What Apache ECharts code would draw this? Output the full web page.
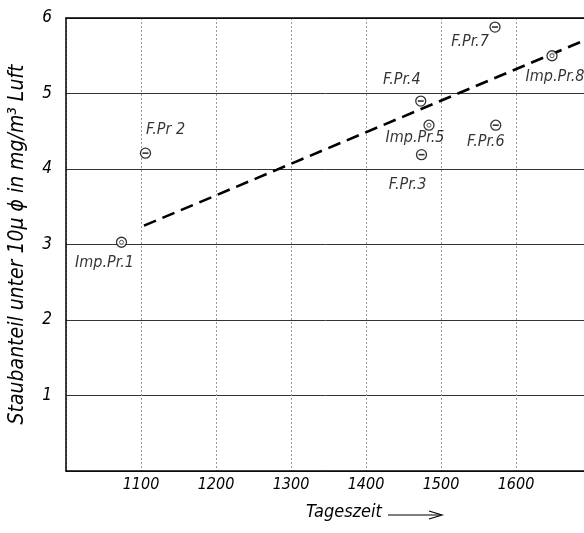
<!DOCTYPE html>
<html>
<head>
<meta charset="utf-8">
<script src="https://cdn.jsdelivr.net/npm/echarts@6/dist/echarts.min.js"></script>
<style>html,body{margin:0;padding:0;background:#fff}#c{width:584px;height:533px}</style>
</head>
<body>
<div id="c"></div>
<script>
// ---- data ----
const pointNames = ['Imp.Pr.1', 'F.Pr 2', 'F.Pr.3', 'F.Pr.4', 'Imp.Pr.5', 'F.Pr.6', 'F.Pr.7', 'Imp.Pr.8'];
const times = [1074, 1106, 1474, 1473, 1484, 1573, 1572, 1648];
const dust = [3.03, 4.21, 4.19, 4.90, 4.58, 4.58, 5.88, 5.50];
const trendTimes = [1104, 1700];
const trendDust = [3.25, 5.74];
const xTickLabels = ['1100', '1200', '1300', '1400', '1500', '1600'];
const yTickLabels = ['1', '2', '3', '4', '5', '6'];
const yTitle = 'Staubanteil unter 10\u03BC \u03D5 in mg/m\u00B3 Luft';
const xTitle = 'Tageszeit';

// ---- styles / label placement ----
const FONT = "'Liberation Sans Narrow','DejaVu Sans Condensed','Roboto Condensed','Liberation Sans',sans-serif";
const labelOffsets = [[-17, 21], [20, -23], [-14, 30], [-19, -21], [-14, 13], [-10, 17], [-25, 15], [3, 21]];

const isImp = pointNames.map(n => n.startsWith('Imp'));
const ringData = pointNames.map((n, i) => ({
  value: [times[i], dust[i]],
  label: { show: true, formatter: n, position: 'inside', offset: labelOffsets[i] }
}));
const barData = pointNames.map((n, i) => isImp[i] ? null : [times[i], dust[i]]).filter(d => d);
const dotData = pointNames.map((n, i) => isImp[i] ? [times[i], dust[i]] : null).filter(d => d);
const trend = trendTimes.map((t, i) => [t, trendDust[i]]);

const chart = echarts.init(document.getElementById('c'), null, { renderer: 'canvas' });
chart.setOption({
  animation: false,
  backgroundColor: '#fff',
  grid: { left: 66, top: 18, height: 453, width: 525, containLabel: false, outerBoundsMode: 'none' },
  xAxis: [{
    type: 'value', min: 1000, max: 1700, interval: 100,
    axisLine: { show: true, lineStyle: { color: '#000', width: 1.5 } },
    axisTick: { show: false },
    splitLine: { show: true, lineStyle: { color: '#999', width: 1, type: [2, 2] } },
    axisLabel: {
      margin: 6, fontFamily: FONT, fontStyle: 'italic', fontSize: 16, color: '#000',
      formatter: v => xTickLabels.includes(String(v)) ? String(v) : ''
    }
  }, {
    type: 'value', min: 1000, max: 1700, position: 'top',
    axisLine: { show: true, onZero: false, lineStyle: { color: '#000', width: 1.5 } },
    axisTick: { show: false }, axisLabel: { show: false }, splitLine: { show: false }
  }],
  yAxis: {
    type: 'value', min: 0, max: 6, interval: 1,
    axisLine: { show: true, lineStyle: { color: '#000', width: 1.5 } },
    axisTick: { show: false },
    splitLine: { show: true, lineStyle: { color: '#333', width: 1 } },
    axisLabel: {
      margin: 14, fontFamily: FONT, fontStyle: 'italic', fontSize: 17, color: '#000',
      verticalAlign: 'middle', padding: [0, 0, 7, 0],
      formatter: v => yTickLabels.includes(String(v)) ? String(v) : ''
    },
    name: yTitle, nameLocation: 'middle', nameGap: 38, nameRotate: 90,
    nameTextStyle: { fontFamily: FONT, fontStyle: 'italic', fontSize: 21, color: '#000' }
  },
  graphic: [
    { type: 'text', left: 306, top: 503, style: { text: xTitle, font: 'italic 18px ' + FONT, fill: '#000' } },
    { type: 'line', shape: { x1: 388, y1: 515, x2: 441, y2: 515 }, style: { stroke: '#000', lineWidth: 1.2 } },
    { type: 'polyline', shape: { points: [[429, 511], [442, 515], [429, 519]] }, style: { stroke: '#000', lineWidth: 1.2, fill: null } }
  ],
  series: [
    {
      type: 'line', data: trend, showSymbol: false, symbol: 'none', clip: true,
      lineStyle: { color: '#000', width: 2.6, type: [13, 7] }, z: 2
    },
    {
      type: 'scatter', data: ringData, symbol: 'circle', symbolSize: 10,
      itemStyle: { color: '#fff', borderColor: '#000', borderWidth: 1.3 },
      label: { fontFamily: FONT, fontStyle: 'italic', fontSize: 16, color: '#000', align: 'center', verticalAlign: 'middle' },
      z: 3
    },
    {
      type: 'scatter', data: barData, symbol: 'rect', symbolSize: [6, 1.6],
      itemStyle: { color: '#000' }, z: 4, silent: true
    },
    {
      type: 'scatter', data: dotData, symbol: 'circle', symbolSize: 4,
      itemStyle: { color: '#fff', borderColor: '#333', borderWidth: 1 }, z: 4, silent: true
    }
  ]
});
</script>
</body>
</html>
